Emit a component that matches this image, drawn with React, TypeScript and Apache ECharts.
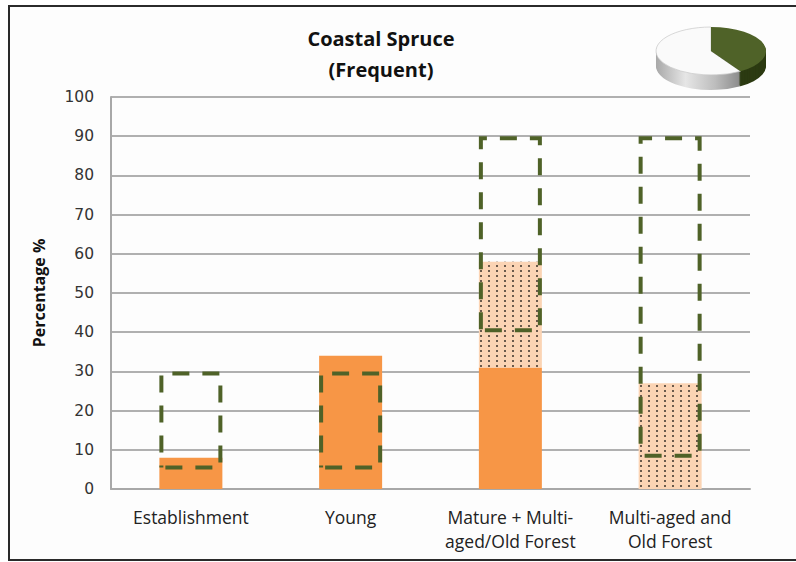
import React, { useEffect, useRef } from "react";
import * as echarts from "echarts";

const categories = [
  "Establishment",
  "Young",
  "Mature + Multi-\naged/Old Forest",
  "Multi-aged and\nOld Forest",
];
const currentSolid = [8, 34, 31, 0];
const currentDotted = [0, 0, 27, 27];
const rangeLow = [5, 5, 40, 8];
const rangeHigh = [30, 30, 90, 90];
const yTicks = { min: 0, max: 100, interval: 10 };
const pieShares = [0.41, 0.59]; // green share, white share

const GREEN = "#4F6228";
const ORANGE = "#F79646";
const PEACH = "#FBD4B4";

function buildPie() {
  const cx = 711;
  const cy = 51;
  const r = 55;
  const ry = 24;
  const depth = 15;
  const sy = ry / r;
  const a0 = -Math.PI / 2;
  const a1 = a0 + pieShares[0] * Math.PI * 2;
  const a2 = a0 + Math.PI * 2;
  const els: any[] = [];
  for (let i = depth; i >= 1; i--) {
    els.push({
      type: "group",
      x: cx,
      y: cy + i,
      scaleY: sy,
      silent: true,
      children: [
        {
          type: "sector",
          shape: { cx: 0, cy: 0, r, startAngle: a1, endAngle: a2, clockwise: true },
          style: {
            fill: new echarts.graphic.LinearGradient(0, 0, 1, 0, [
              { offset: 0, color: "#a8a8a8" },
              { offset: 0.35, color: "#e6e6e6" },
              { offset: 0.7, color: "#bdbdbd" },
              { offset: 1, color: "#8a8a8a" },
            ]),
          },
        },
        {
          type: "sector",
          shape: { cx: 0, cy: 0, r, startAngle: a0, endAngle: a1, clockwise: true },
          style: { fill: "#2c3a12" },
        },
      ],
    });
  }
  els.push({
    type: "group",
    x: cx,
    y: cy,
    scaleY: sy,
    silent: true,
    children: [
      {
        type: "sector",
        shape: { cx: 0, cy: 0, r, startAngle: a1, endAngle: a2, clockwise: true },
        style: { fill: "#fafafa", stroke: "#c8c8c8", lineWidth: 1 },
      },
      {
        type: "sector",
        shape: { cx: 0, cy: 0, r, startAngle: a0, endAngle: a1, clockwise: true },
        style: { fill: GREEN },
      },
    ],
  });
  return els;
}

export default function App() {
  const ref = useRef<HTMLDivElement>(null);
  useEffect(() => {
    if (!ref.current) return;
    const chart = echarts.init(ref.current, undefined, { renderer: "svg" });
    const rangeSpan = rangeHigh.map((h, i) => h - rangeLow[i]);
    const barW = 63;
    chart.setOption({
      animation: false,
      backgroundColor: "#ffffff",
      title: {
        text: "Coastal Spruce\n(Frequent)",
        left: 376,
        top: 18,
        textAlign: "center",
        textStyle: {
          fontFamily: "Open Sans",
          fontWeight: "bold",
          fontSize: 20,
          lineHeight: 31,
          color: "#111",
        },
      },
      graphic: [
        {
          type: "rect",
          z: -10,
          silent: true,
          shape: { x: 9, y: 6, width: 820, height: 554 },
          style: { fill: "#fdfdfd", stroke: "#2a2a2a", lineWidth: 2 },
        },
        ...buildPie(),
      ],
      grid: { left: 111, right: 46, top: 97, bottom: 73, containLabel: false },
      xAxis: {
        type: "category",
        data: categories,
        axisLine: { show: true, lineStyle: { color: "#a8a8a8", width: 2 } },
        axisTick: { show: false },
        axisLabel: {
          fontFamily: "Open Sans",
          fontSize: 17.5,
          lineHeight: 24,
          color: "#222",
          margin: 16,
          interval: 0,
        },
      },
      yAxis: {
        type: "value",
        min: yTicks.min,
        max: yTicks.max,
        interval: yTicks.interval,
        name: "Percentage %",
        nameLocation: "middle",
        nameGap: 64,
        nameRotate: 90,
        nameTextStyle: {
          fontFamily: "Open Sans",
          fontWeight: "bold",
          fontSize: 16,
          color: "#111",
        },
        axisLine: { show: true, lineStyle: { color: "#a8a8a8", width: 2 } },
        axisTick: { show: false },
        splitLine: { show: true, lineStyle: { color: "#b0b0b0", width: 2 } },
        axisLabel: {
          fontFamily: "DejaVu Sans",
          fontSize: 15.5,
          color: "#333",
          margin: 17,
        },
      },
      series: [
        {
          name: "Current",
          type: "bar",
          stack: "current",
          barWidth: barW,
          barGap: "-100%",
          data: currentSolid,
          itemStyle: { color: ORANGE },
        },
        {
          name: "Current (dotted)",
          type: "bar",
          stack: "current",
          barWidth: barW,
          barGap: "-100%",
          data: currentDotted,
          itemStyle: {
            color: PEACH,
            decal: {
              symbol: "rect",
              symbolSize: 1,
              color: "#6a5a4c",
              backgroundColor: PEACH,
              dashArrayX: [1.3, 5.2],
              dashArrayY: [1.3, 2.9],
              rotation: 0,
            },
          },
        },
        {
          name: "RangeBase",
          type: "bar",
          stack: "range",
          barWidth: barW,
          barGap: "-100%",
          data: rangeLow,
          itemStyle: { color: "rgba(0,0,0,0)" },
          silent: true,
        },
        {
          name: "Range",
          type: "bar",
          stack: "range",
          barWidth: barW,
          barGap: "-100%",
          data: rangeSpan,
          itemStyle: {
            color: "rgba(0,0,0,0)",
            borderColor: GREEN,
            borderWidth: 4,
            borderType: [17, 13],
            borderDashOffset: -4,
          },
        },
      ],
    });
    return () => chart.dispose();
  }, []);
  return (
    <div
      ref={ref}
      style={{ position: "fixed", left: 0, top: 0, width: 796, height: 562 }}
    />
  );
}
